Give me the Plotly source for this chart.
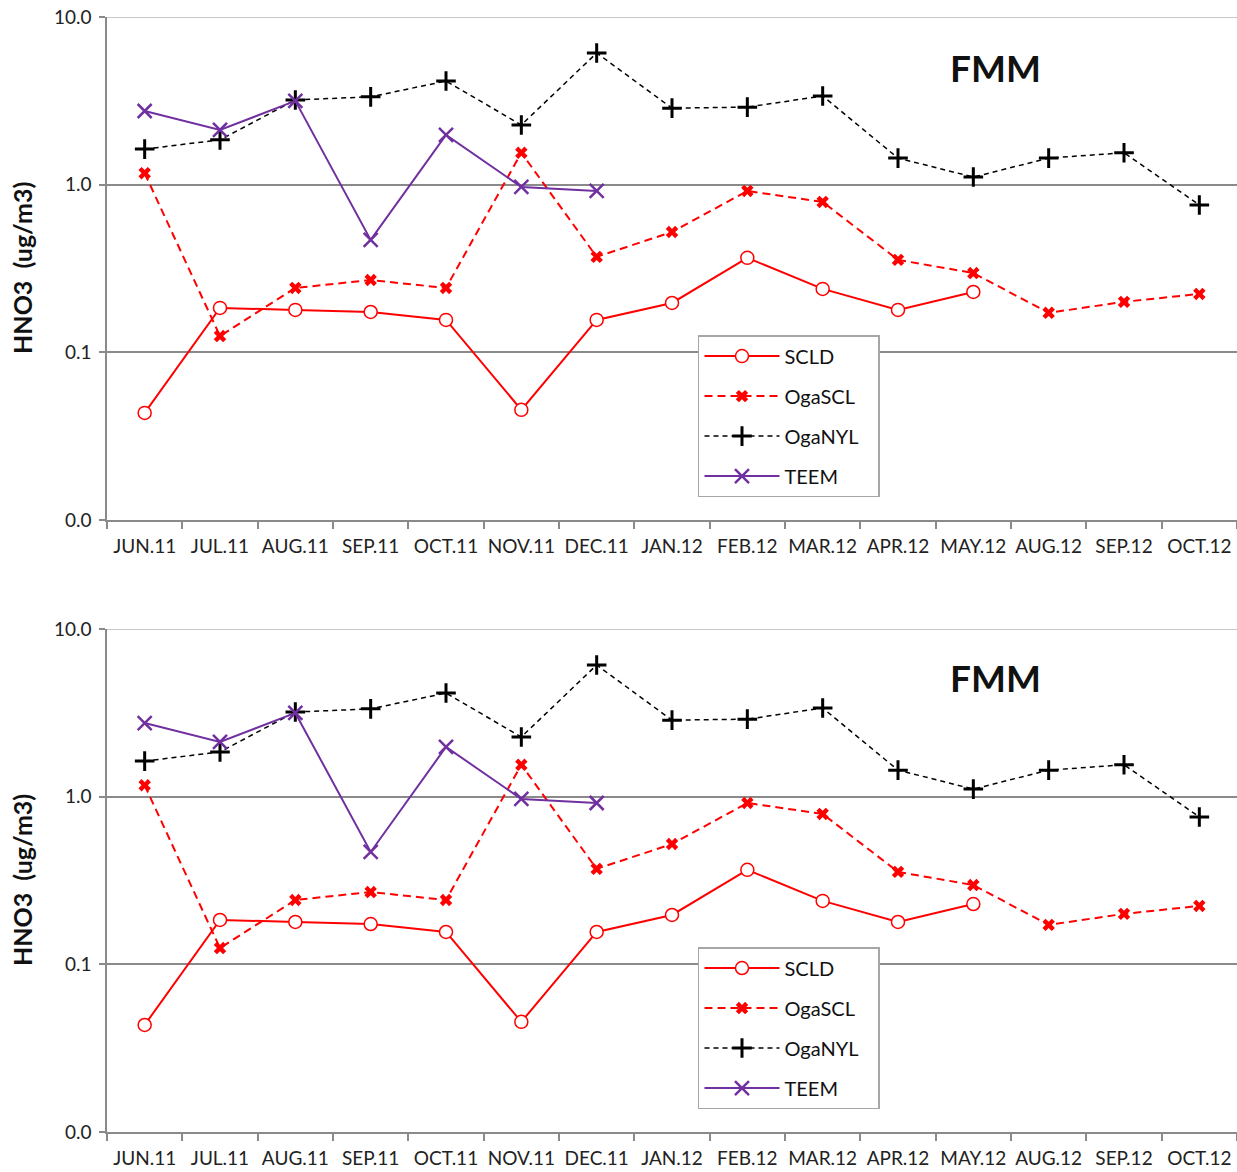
import plotly.graph_objects as go

categories = ["JUN.11", "JUL.11", "AUG.11", "SEP.11", "OCT.11", "NOV.11", "DEC.11",
              "JAN.12", "FEB.12", "MAR.12", "APR.12", "MAY.12", "AUG.12", "SEP.12", "OCT.12"]

scld = [0.0435, 0.184, 0.179, 0.174, 0.156, 0.0454, 0.156, 0.197, 0.366, 0.239, 0.179, 0.229,
        None, None, None]
ogascl = [1.17, 0.125, 0.242, 0.270, 0.242, 1.55, 0.371, 0.522, 0.917, 0.789, 0.356, 0.297,
          0.172, 0.200, 0.223]
oganyl = [1.63, 1.85, 3.2, 3.34, 4.15, 2.27, 6.1, 2.86, 2.9, 3.38, 1.44, 1.11, 1.44, 1.55, 0.757]
teem = [2.75, 2.12, 3.16, 0.468, 1.98, 0.969, 0.917, None, None, None, None, None, None, None, None]

y_tickvals = [0.01, 0.1, 1, 10]
y_ticktext = ["0.0", "0.1", "1.0", "10.0"]

FONT = "Lato, 'Open Sans', sans-serif"
GRID = "#8a8a8a"

fig = go.Figure()

series = [
    ("SCLD", scld, dict(color="#ff0000", width=2), dict(symbol="circle", size=13, color="white",
                                                         line=dict(color="#ff0000", width=1.5))),
    ("OgaSCL", ogascl, dict(color="#ff0000", width=2, dash="8px,5px"),
     dict(symbol="x", size=11, color="#ff0000", line=dict(width=0))),
    ("OgaNYL", oganyl, dict(color="#000000", width=1.5, dash="5px,4px"),
     dict(symbol="cross-thin", size=14, color="#000000", line=dict(color="#000000", width=3))),
    ("TEEM", teem, dict(color="#7030a0", width=2),
     dict(symbol="x-thin", size=14, color="#7030a0", line=dict(color="#7030a0", width=2.5))),
]

panels = [("x", "y", "legend"), ("x2", "y2", "legend2")]
for xa, ya, lg in panels:
    for name, vals, line, marker in series:
        label = name + ("\u00a0\u00a0\u00a0" if name == "OgaNYL" else "")
        fig.add_trace(go.Scatter(
            x=categories, y=vals, name=label, mode="lines+markers",
            line=line, marker=marker, xaxis=xa, yaxis=ya, legend=lg,
            legendgroup=name + lg, connectgaps=False,
        ))

top_dom = [0.5489, 1.0]
bot_dom = [0.0, 0.4511]

xaxis_common = dict(
    type="category", categoryorder="array", categoryarray=categories,
    range=[-0.5, 14.5], tickson="boundaries", ticks="outside", ticklen=7,
    tickcolor=GRID, tickwidth=1.5, showline=True, linecolor=GRID, linewidth=1.5,
    showgrid=False, tickfont=dict(family=FONT, size=19, color="#222"), tickangle=0,
    ticklabelstandoff=8, domain=[0, 1], fixedrange=True,
)
yaxis_common = dict(
    type="log", range=[-2, 1], tickvals=y_tickvals, ticktext=y_ticktext,
    ticks="outside", ticklen=6, tickcolor=GRID, tickwidth=1.5, showline=True,
    linecolor=GRID, linewidth=1.5, showgrid=True, gridcolor=GRID, gridwidth=1.5,
    tickfont=dict(family=FONT, size=19, color="#222"), zeroline=False, fixedrange=True,
    ticklabelstandoff=4,
)

legend_common = dict(
    xanchor="left", yanchor="top", bgcolor="white", bordercolor="#a6a6a6", borderwidth=1.5,
    traceorder="grouped", tracegroupgap=11, itemwidth=75,
    font=dict(family=FONT, size=20, color="#111"),
)

fig.update_layout(
    width=1237, height=1172,
    margin=dict(l=107, r=0, t=17, b=40),
    plot_bgcolor="white", paper_bgcolor="white",
    xaxis=dict(xaxis_common, anchor="y"),
    yaxis=dict(yaxis_common, domain=top_dom, anchor="x"),
    xaxis2=dict(xaxis_common, anchor="y2"),
    yaxis2=dict(yaxis_common, domain=bot_dom, anchor="x2"),
    showlegend=True,
    legend=dict(legend_common, x=0.523, y=0.7147),
    legend2=dict(legend_common, x=0.523, y=0.1659),
)

# top border gridline at 10.0 (lighter grey as in the reference)
for xr, yr in [("x domain", "y"), ("x2 domain", "y2")]:
    fig.add_shape(type="line", xref=xr, yref=yr, x0=0, x1=1, y0=10, y1=10,
                  line=dict(color="#b4b4b4", width=1.5), layer="below")

annotations = []
for ycenter_title, yfmm in [(0.775, 0.955), (0.226, 0.4072)]:
    annotations.append(dict(
        text="<b>HNO3\u00a0\u00a0(ug/m3)</b>", textangle=-90, xref="paper", yref="paper",
        x=-0.0752, y=ycenter_title, xanchor="center", yanchor="middle", showarrow=False,
        font=dict(family=FONT, size=25, color="#111"),
    ))
    annotations.append(dict(
        text="<b>FMM</b>", xref="paper", yref="paper", x=0.786, y=yfmm,
        xanchor="center", yanchor="middle", showarrow=False,
        font=dict(family=FONT, size=37, color="#111"),
    ))
fig.update_layout(annotations=annotations)

fig.write_html("out.html", config={"displayModeBar": False},
               post_script="document.body.style.margin='0px';")
